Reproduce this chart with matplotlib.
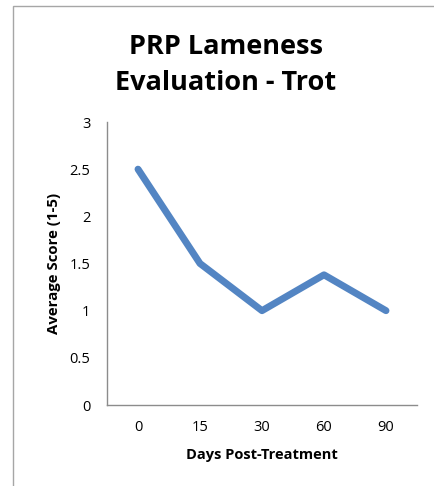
import matplotlib
matplotlib.use('Agg')
import matplotlib.pyplot as plt
from matplotlib.patches import Rectangle

# data
days = ['0', '15', '30', '60', '90']
scores = [2.5, 1.5, 1.0, 1.38, 1.0]
yticks = [0, 0.5, 1, 1.5, 2, 2.5, 3]
ytick_labels = ['0', '0.5', '1', '1.5', '2', '2.5', '3']

plt.rcParams['font.family'] = ['Open Sans', 'DejaVu Sans']

fig = plt.figure(figsize=(4.35, 4.86), dpi=100)

# gray frame around the chart area
W, H = 435.0, 486.0
fig.patches.append(Rectangle((13 / W, -0.1), 1.2, (486 - 6) / H + 0.1,
                             transform=fig.transFigure, fill=False,
                             edgecolor='#a6a6a6', linewidth=1.0))

ax = fig.add_axes([107 / W, (H - 405) / H, (417 - 107) / W, (405 - 122) / H])
x = range(len(days))
ax.plot(x, scores, color='#5385C3', linewidth=5,
        solid_capstyle='round', solid_joinstyle='round')

ax.set_xlim(-0.5, len(days) - 0.5)
ax.set_ylim(0, 3)
ax.set_xticks(list(x))
ax.set_xticklabels(days, size=10.5)
ax.set_yticks(yticks)
ax.set_yticklabels(ytick_labels, size=10.5)
ax.tick_params(length=0, pad=11)
ax.tick_params(axis='y', pad=12)

for side in ['top', 'right']:
    ax.spines[side].set_visible(False)
for side in ['left', 'bottom']:
    ax.spines[side].set_color('#8c8c8c')
    ax.spines[side].set_linewidth(1.0)

ax.set_xlabel('Days Post-Treatment', size=10.5, fontweight='bold', labelpad=9)
ax.set_ylabel('Average Score (1-5)', size=10.8, fontweight='bold', labelpad=6)

fig.text(226 / W, 1 - 65 / H, 'PRP Lameness\nEvaluation - Trot', ha='center',
         va='center', size=19.5, fontweight='bold', linespacing=1.45)

fig.savefig('out.png', dpi=100)
